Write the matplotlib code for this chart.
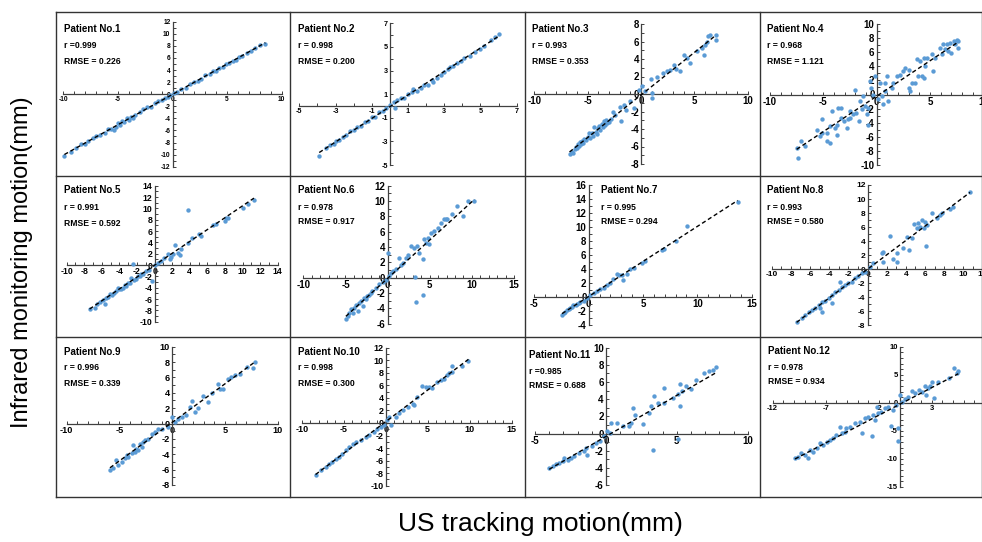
import numpy as np
import matplotlib.pyplot as plt
from matplotlib.lines import Line2D
from matplotlib.ticker import MultipleLocator

plt.rcParams['font.family'] = ['Liberation Sans', 'DejaVu Sans']
plt.rcParams['axes.unicode_minus'] = False

W, H = 982, 542

# (US tracking, infrared monitoring) pairs
patient1 = [(-9.9, -10.2), (-9.3, -9.5), (-8.8, -8.9), (-8.4, -8.3), (-8.0, -8.2), (-7.7, -7.8), (-7.3, -7.2),
            (-7.0, -6.9), (-6.6, -6.8), (-6.2, -6.4), (-5.9, -5.8), (-5.6, -5.7), (-5.4, -5.9), (-5.2, -5.5),
            (-5.0, -4.8), (-4.8, -5.1), (-4.6, -4.4), (-4.4, -4.6), (-4.2, -4.0), (-4.0, -4.3), (-3.8, -3.7),
            (-3.6, -3.9), (-3.4, -3.5), (-3.0, -2.9), (-2.7, -2.5), (-2.3, -2.2), (-2.0, -2.1), (-1.6, -1.5),
            (-1.3, -1.1), (-1.0, -1.0), (-0.7, -0.6), (-0.4, -0.5), (-0.2, -0.1), (0.1, 0.2), (0.4, 0.3),
            (0.8, 0.9), (1.2, 1.1), (1.6, 1.7), (2.0, 2.1), (2.3, 2.2), (2.6, 2.5), (3.0, 3.1), (3.4, 3.3),
            (3.7, 3.8), (4.0, 3.9), (4.3, 4.4), (4.6, 4.5), (4.9, 5.0), (5.2, 5.1), (5.5, 5.5), (5.8, 5.6),
            (6.1, 6.2), (6.4, 6.3), (6.8, 6.9), (7.2, 7.1), (7.6, 7.6), (8.0, 8.1), (8.5, 8.3)]
patient2 = [(-3.9, -4.2), (-3.5, -3.6), (-3.3, -3.3), (-3.1, -3.2), (-3.0, -3.0), (-2.8, -2.9), (-2.6, -2.6),
            (-2.4, -2.5), (-2.2, -2.1), (-2.0, -2.0), (-1.8, -1.8), (-1.6, -1.7), (-1.4, -1.4), (-1.2, -1.3),
            (-1.0, -0.9), (-0.8, -0.9), (-0.6, -0.5), (-0.4, -0.4), (-0.2, -0.2), (0.0, 0.1), (0.2, 0.3),
            (0.3, -0.2), (0.4, 0.5), (0.6, 0.7), (0.8, 0.7), (1.0, 1.0), (1.2, 1.2), (1.3, 1.4), (1.5, 1.3),
            (1.7, 1.5), (1.9, 1.8), (2.1, 1.8), (2.3, 2.2), (2.4, 2.0), (2.6, 2.4), (2.8, 2.6), (3.0, 2.9),
            (3.2, 3.1), (3.3, 3.3), (3.5, 3.4), (3.7, 3.6), (3.9, 3.8), (4.1, 4.1), (4.4, 4.2), (4.7, 4.6),
            (5.0, 4.8), (5.2, 5.1), (5.6, 5.6), (5.8, 5.8), (6.0, 6.1)]
patient3 = [(-6.7, -6.9), (-6.5, -6.6), (-6.4, -6.7), (-6.2, -6.3), (-6.1, -6.1), (-6.0, -6.2), (-5.9, -5.7),
            (-5.8, -5.9), (-5.7, -5.5), (-5.6, -5.7), (-5.5, -5.4), (-5.4, -5.6), (-5.3, -5.1), (-5.2, -5.3),
            (-5.0, -4.9), (-4.9, -4.5), (-4.8, -5.0), (-4.6, -4.4), (-4.5, -4.8), (-4.4, -3.8), (-4.2, -4.3),
            (-4.1, -4.6), (-4.0, -3.9), (-3.9, -3.6), (-3.8, -4.1), (-3.7, -3.4), (-3.6, -3.8), (-3.5, -3.1),
            (-3.4, -3.5), (-3.3, -3.0), (-3.2, -3.3), (-3.0, -3.2), (-2.8, -2.9), (-2.6, -2.0), (-2.4, -2.4),
            (-2.0, -1.5), (-1.9, -3.1), (-1.6, -1.2), (-1.4, -1.8), (-1.0, -0.8), (-0.7, -1.6), (-0.2, 0.5),
            (0.1, 0.9), (0.4, 0.4), (0.9, 1.7), (1.0, 0.1), (1.0, -0.5), (1.5, 2.0), (2.1, 2.4), (2.4, 2.6),
            (2.75, 2.8), (3.1, 3.35), (3.3, 2.9), (3.7, 2.6), (4.0, 4.5), (4.3, 4.1), (4.6, 3.5), (5.25, 4.9),
            (5.7, 5.3), (5.9, 4.5), (6.0, 5.6), (6.2, 5.9), (6.3, 6.6), (6.5, 6.8), (7.0, 6.8), (7.0, 6.2)]
patient4 = [(-7.5, -7.6), (-7.35, -9.0), (-7.1, -6.6), (-6.7, -7.3), (-5.6, -5.0), (-5.3, -5.9), (-5.15, -5.4),
            (-5.1, -3.5), (-4.7, -5.4), (-4.7, -6.6), (-4.4, -6.9), (-4.4, -4.5), (-4.2, -2.4), (-3.9, -4.7),
            (-3.75, -4.3), (-3.75, -5.7), (-3.6, -1.9), (-3.3, -1.9), (-3.3, -3.3), (-3.1, -3.8), (-2.8, -4.7),
            (-2.7, -3.5), (-2.5, -3.3), (-2.5, -2.4), (-2.2, -2.8), (-2.0, 0.7), (-1.9, -2.6), (-1.7, -3.8),
            (-1.6, -0.9), (-1.4, -2.1), (-1.25, -0.2), (-1.1, -1.7), (-0.9, -2.8), (-0.8, -1.9), (-0.8, -4.3),
            (-0.6, 1.9), (-0.5, 0.9), (-0.3, 0.0), (-0.15, 2.6), (0.15, -0.7), (0.3, 1.65), (0.45, -0.2),
            (0.6, -1.4), (0.8, 0.5), (0.8, 1.65), (0.95, 2.6), (1.1, -0.9), (1.4, 0.9), (1.55, 1.65),
            (1.9, 2.6), (2.2, 2.8), (2.5, 3.3), (2.65, 3.8), (3.0, 3.5), (3.0, 0.9), (3.1, 0.5), (3.3, 1.65),
            (3.6, 1.65), (3.75, 5.0), (3.9, 2.6), (4.1, 4.7), (4.2, 2.6), (4.4, 2.4), (4.4, 5.2), (4.5, 4.0),
            (4.7, 5.2), (5.15, 5.7), (5.3, 3.3), (5.5, 5.2), (5.9, 6.6), (6.1, 5.7), (6.25, 7.1), (6.4, 6.4),
            (6.55, 7.1), (6.7, 6.1), (6.9, 7.3), (7.0, 5.9), (7.2, 7.6), (7.3, 7.1), (7.5, 7.8), (7.65, 7.6),
            (7.65, 6.6)]
patient5 = [(-7.4, -7.8), (-6.8, -7.5), (-6.5, -6.9), (-6.25, -6.6), (-5.9, -6.1), (-5.7, -6.9), (-5.5, -5.8),
            (-5.3, -5.6), (-5.1, -5.1), (-4.9, -5.2), (-4.6, -4.9), (-4.4, -4.6), (-4.2, -4.0), (-4.0, -4.3),
            (-3.8, -4.2), (-3.6, -4.0), (-3.4, -3.5), (-3.2, -3.7), (-3.0, -3.2), (-2.8, -3.1), (-2.65, -2.2),
            (-2.5, 0.1), (-2.3, -2.7), (-2.1, -2.5), (-1.9, -2.0), (-1.7, -1.9), (-1.5, -1.5), (-1.3, -1.6),
            (-0.95, -1.05), (-0.6, -0.8), (-0.3, -2.9), (0.0, 0.0), (0.4, 0.4), (0.7, 0.8), (1.1, 1.3),
            (1.5, 1.9), (1.7, 1.0), (1.9, 1.5), (2.1, 1.9), (2.3, 3.5), (2.65, 2.2), (2.85, 1.7), (3.0, 2.8),
            (3.8, 3.9), (3.85, 9.65), (4.2, 4.8), (5.1, 5.4), (5.3, 5.1), (6.6, 7.1), (7.0, 7.2), (7.95, 7.8),
            (8.1, 8.35), (8.3, 8.35), (10.0, 10.1), (10.6, 10.7), (11.3, 11.4)]
patient6 = [(-4.95, -5.35), (-4.75, -5.0), (-4.55, -4.55), (-4.35, -4.1), (-4.15, -4.55), (-3.95, -3.9),
            (-3.75, -3.5), (-3.55, -4.35), (-3.35, -3.25), (-3.15, -3.05), (-2.95, -3.7), (-2.75, -2.6),
            (-2.55, -2.8), (-2.4, -2.4), (-2.2, -2.2), (-2.0, -1.95), (-1.8, -1.75), (-1.4, -1.3), (-1.0, -0.85),
            (-0.6, -0.55), (-0.2, -0.3), (0.1, 3.2), (0.2, 0.2), (0.4, 0.65), (0.6, 0.85), (1.0, 1.1),
            (1.4, 2.6), (1.6, 1.6), (1.8, 1.9), (2.2, 2.6), (2.4, 2.9), (2.75, 4.1), (3.15, 3.9), (3.3, 0.15),
            (3.35, -3.2), (3.55, 4.1), (3.75, 3.25), (4.15, -2.2), (4.25, 2.4), (4.35, 5.0), (4.55, 4.55),
            (4.75, 5.2), (4.95, 4.35), (5.15, 5.85), (5.55, 6.1), (5.95, 6.5), (6.3, 7.2), (6.7, 7.6),
            (6.9, 7.7), (7.1, 7.7), (7.7, 8.25), (8.2, 9.4), (9.0, 8.1), (9.5, 10.0), (10.3, 10.0)]
patient7 = [(-2.45, -2.5), (-2.3, -2.25), (-2.15, -2.15), (-2.0, -1.9), (-1.85, -1.65), (-1.7, -1.5),
            (-1.55, -1.45), (-1.4, -1.2), (-1.2, -1.1), (-1.05, -0.95), (-0.9, -0.8), (-0.75, -0.7),
            (-0.45, -0.5), (-0.15, -0.15), (0.15, 0.25), (0.45, 0.6), (0.75, 0.85), (1.05, 1.1), (1.4, 1.3),
            (1.7, 1.65), (2.0, 2.05), (2.25, 2.6), (2.6, 3.35), (2.75, 3.1), (3.05, 3.1), (3.2, 2.5),
            (3.55, 3.35), (3.85, 3.95), (4.15, 4.15), (4.9, 4.9), (5.2, 5.1), (6.75, 6.65), (6.9, 6.8),
            (8.0, 7.95), (9.05, 10.1), (13.7, 13.6)]
patient8 = [(-7.4, -7.5), (-6.85, -7.05), (-6.5, -6.6), (-6.15, -6.2), (-5.8, -5.85), (-5.45, -5.6),
            (-5.1, -5.15), (-4.95, -5.5), (-4.75, -4.75), (-4.75, -6.1), (-4.4, -4.55), (-4.05, -4.2),
            (-3.7, -4.9), (-3.7, -3.7), (-3.4, -3.25), (-3.0, -3.0), (-2.85, -1.9), (-2.7, -2.5), (-2.35, -2.3),
            (-2.0, -2.05), (-1.65, -1.8), (-1.3, -1.35), (-0.95, -1.0), (-0.6, -0.6), (-0.25, -0.4), (0.3, 0.35),
            (0.6, 0.8), (1.5, 2.25), (1.65, 2.4), (1.65, 1.05), (2.35, 4.7), (2.7, 1.45), (3.05, 0.95),
            (3.05, 2.25), (3.7, 3.05), (4.1, 4.55), (4.3, 2.75), (4.6, 4.4), (4.8, 6.4), (5.15, 5.8), (5.3, 6.5),
            (5.5, 6.05), (5.65, 7.0), (5.85, 5.8), (6.0, 6.75), (6.1, 3.35), (6.2, 6.3), (6.7, 8.05),
            (7.25, 7.25), (7.6, 7.7), (7.75, 7.95), (8.6, 8.5), (8.9, 8.9), (10.7, 11.05)]
patient9 = [(-5.9, -6.1), (-5.6, -5.85), (-5.3, -4.8), (-5.1, -5.4), (-4.8, -5.0), (-4.5, -4.55), (-4.3, -4.1),
            (-4.2, -4.35), (-3.85, -3.9), (-3.7, -2.8), (-3.55, -3.65), (-3.4, -3.25), (-3.2, -3.45),
            (-3.05, -2.6), (-2.9, -3.05), (-2.75, -2.4), (-2.6, -2.15), (-2.3, -1.95), (-1.95, -1.3),
            (-1.65, -1.1), (-1.35, -0.65), (-1.0, -0.65), (-0.4, -0.45), (-0.05, 0.85), (0.25, 0.2), (0.55, 0.55),
            (0.9, 0.85), (1.35, 1.15), (1.7, 2.15), (1.9, 2.9), (2.15, 1.45), (2.45, 2.05), (2.95, 3.6),
            (3.4, 2.8), (3.75, 4.0), (4.35, 5.1), (4.5, 4.55), (4.85, 4.55), (5.3, 5.75), (5.6, 6.0),
            (5.95, 6.3), (6.4, 6.5), (7.05, 7.4), (7.7, 7.25), (7.85, 7.95)]
patient10 = [(-8.35, -8.25), (-7.75, -7.55), (-7.15, -7.0), (-6.75, -6.5), (-6.35, -6.2), (-5.95, -5.8),
             (-5.55, -5.45), (-5.15, -4.9), (-4.75, -4.35), (-4.35, -3.85), (-3.95, -3.3), (-3.55, -3.05),
             (-2.95, -2.75), (-2.4, -2.25), (-2.0, -1.95), (-1.4, -1.45), (-1.0, -1.0), (-0.6, -0.65),
             (-0.2, -0.35), (0.2, 0.45), (0.4, 0.95), (0.6, -0.35), (1.2, 0.95), (1.6, 1.65), (2.0, 2.0),
             (2.6, 2.55), (3.2, 3.1), (3.35, 2.8), (3.75, 4.15), (4.3, 5.85), (4.75, 5.75), (5.15, 5.75),
             (5.55, 5.5), (6.15, 6.55), (6.55, 6.8), (6.95, 7.05), (7.35, 7.7), (7.55, 8.0), (7.85, 9.05),
             (7.95, 8.1), (9.05, 9.05), (9.85, 9.85)]
patient11 = [(-4.0, -4.0), (-3.75, -3.8), (-3.5, -3.6), (-3.3, -3.4), (-3.05, -3.25), (-2.95, -2.85),
             (-2.7, -3.05), (-2.45, -2.85), (-2.25, -2.65), (-1.9, -2.25), (-1.55, -2.05), (-1.4, -1.65),
             (-1.3, -2.45), (-0.95, -1.5), (-0.7, -1.1), (-0.45, -0.9), (-0.1, -0.3), (0.05, 0.25), (0.3, 0.1),
             (0.35, 1.25), (0.8, 1.25), (1.2, 0.85), (1.65, 0.9), (1.75, 1.25), (1.9, 3.0), (2.05, 2.2),
             (2.6, 1.15), (3.05, 2.4), (3.2, 3.2), (3.3, -1.95), (3.4, 4.35), (3.65, 3.6), (4.1, 5.35),
             (4.1, 3.6), (4.7, 4.15), (5.05, 4.55), (5.05, -0.6), (5.2, 5.75), (5.2, 3.2), (5.4, 4.95),
             (5.65, 5.55), (6.0, 5.15), (6.35, 6.25), (6.95, 7.1), (7.3, 7.3), (7.55, 7.45), (7.75, 7.8)]
patient12 = [(-9.9, -9.95), (-9.6, -9.65), (-9.3, -9.05), (-9.0, -9.35), (-8.7, -9.95), (-8.5, -8.45),
             (-8.2, -8.75), (-7.85, -8.15), (-7.55, -7.25), (-7.25, -7.55), (-6.9, -6.95), (-6.6, -6.65),
             (-6.3, -6.35), (-6.0, -5.75), (-5.65, -4.3), (-5.5, -5.45), (-5.2, -5.2), (-5.05, -4.6),
             (-4.7, -4.3), (-4.25, -3.7), (-3.8, -3.4), (-3.6, -5.45), (-3.3, -2.8), (-3.0, -2.5),
             (-2.65, -5.95), (-2.5, -2.2), (-2.35, -3.1), (-2.2, -0.85), (-2.05, -1.9), (-1.75, -1.6),
             (-1.4, -1.0), (-1.1, -0.7), (-0.85, -4.15), (-0.65, -1.3), (-0.4, -0.4), (-0.2, -4.6),
             (-0.15, -6.8), (0.0, 1.35), (0.15, 0.2), (0.45, 0.75), (0.8, 1.05), (1.1, 2.15), (1.4, 1.65),
             (1.75, 2.25), (2.05, 1.95), (2.35, 3.0), (2.5, 1.35), (2.65, 2.55), (2.85, 3.0), (3.0, 3.75),
             (3.25, 0.9), (3.6, 3.75), (4.6, 4.35), (5.05, 6.15), (5.35, 5.25), (5.5, 5.7)]

patients = [patient1, patient2, patient3, patient4, patient5, patient6,
            patient7, patient8, patient9, patient10, patient11, patient12]
r_labels = ['r =0.999', 'r = 0.998', 'r = 0.993', 'r = 0.968', 'r = 0.991', 'r = 0.978',
            'r = 0.995', 'r = 0.993', 'r = 0.996', 'r = 0.998', 'r =0.985', 'r = 0.978']
rmse_labels = ['RMSE = 0.226', 'RMSE = 0.200', 'RMSE = 0.353', 'RMSE = 1.121', 'RMSE = 0.592', 'RMSE = 0.917',
               'RMSE = 0.294', 'RMSE = 0.580', 'RMSE = 0.339', 'RMSE = 0.300', 'RMSE = 0.688', 'RMSE = 0.934']
x_limits = [(-10, 10), (-5, 7), (-10, 10), (-10, 10), (-10, 14), (-10, 15),
            (-5, 15), (-10, 12), (-10, 10), (-10, 15), (-5, 10), (-12, 8)]
y_limits = [(-12, 12), (-5, 7), (-8, 8), (-10, 10), (-10, 14), (-6, 12),
            (-4, 16), (-8, 12), (-8, 10), (-10, 12), (-6, 10), (-15, 10)]
x_steps = [5, 2, 5, 5, 2, 5, 5, 2, 5, 5, 5, 5]
y_steps = [2, 2, 2, 2, 2, 2, 2, 2, 2, 2, 2, 5]

# plot area of each panel in pixels: left, right, top, bottom
boxes = [(63.3, 281.7, 21.7, 166.7), (299.3, 516.7, 23.3, 165), (534.3, 747.7, 24, 164), (770, 983.4, 24, 165),
         (66.7, 277.7, 185.7, 321.7), (303.3, 514, 185.7, 323.7), (534.3, 751.7, 185, 325), (771.7, 982.5, 185, 325),
         (66.7, 277.7, 346.7, 485), (301.7, 511.7, 347.7, 485.7), (535, 747.7, 347.7, 485), (772.7, 984.8, 346.7, 486.7)]
# text anchor: left x, title y, r y, rmse y
notes = [(64, 29, 45, 61), (298, 29, 45, 61), (532, 29, 45, 61), (767, 29, 45, 61),
         (64, 190, 207, 223), (298, 190, 207, 222), (601, 190, 207, 222), (767, 190, 207, 222),
         (64, 352, 368, 384), (298, 352, 368, 384), (529, 355, 371, 386), (768, 351, 367, 382)]
tick_sizes = [4.8, 5.2, 7, 7, 6.3, 7, 7, 6, 6.6, 6.5, 7, 5.5]

blue = '#5B9BD5'
axis_col = '#404040'

fig = plt.figure(figsize=(W / 100, H / 100), dpi=100)


def px(x, y):
    return x / W, 1 - y / H


for i, pts in enumerate(patients):
    xs = np.array([p[0] for p in pts])
    ys = np.array([p[1] for p in pts])
    l, r, t, b = boxes[i]
    ax = fig.add_axes([l / W, 1 - b / H, (r - l) / W, (b - t) / H])
    ax.set_facecolor('none')
    ax.set_xlim(*x_limits[i])
    ax.set_ylim(*y_limits[i])
    ax.scatter(xs, ys, s=10, color=blue, linewidths=0, zorder=3, clip_on=False)
    k, c = np.polyfit(xs, ys, 1)
    xx = np.array([xs.min(), xs.max()])
    ax.plot(xx, k * xx + c, color='black', lw=1.0, ls=(0, (3, 2)), zorder=4)

    for side in ['top', 'right']:
        ax.spines[side].set_visible(False)
    for side in ['left', 'bottom']:
        ax.spines[side].set_position(('data', 0))
        ax.spines[side].set_color(axis_col)
        ax.spines[side].set_linewidth(0.9)
    x0, x1 = x_limits[i]
    y0, y1 = y_limits[i]
    xt = np.arange(x0, x1 + 0.1, x_steps[i])
    # the picture is cropped on the right: drop labels that fall fully outside it
    xt_px = l + (xt - x0) / (x1 - x0) * (r - l)
    ax.set_xticks(xt[xt_px < W + 2])
    ax.set_yticks(np.arange(y0, y1 + 0.1, y_steps[i]))
    ax.xaxis.set_minor_locator(MultipleLocator(1))
    ax.yaxis.set_minor_locator(MultipleLocator(1))
    ax.tick_params(which='both', direction='in', length=2.5, width=0.7, color=axis_col,
                   labelsize=tick_sizes[i], pad=1.5, labelcolor='black')
    for lbl in ax.get_xticklabels() + ax.get_yticklabels():
        lbl.set_fontweight('bold')

    tx, ty1, ty2, ty3 = notes[i]
    fig.text(*px(tx, ty1), f'Patient No.{i + 1}', fontsize=7, fontweight='bold', va='center', ha='left')
    fig.text(*px(tx, ty2), r_labels[i], fontsize=6.2, fontweight='bold', va='center', ha='left')
    fig.text(*px(tx, ty3), rmse_labels[i], fontsize=6.2, fontweight='bold', va='center', ha='left')

# panel grid lines
grid_col = '#333333'
for x in [56, 290, 525, 760, 981.5]:
    fig.add_artist(Line2D([x / W, x / W], [1 - 12 / H, 1 - 497 / H], color=grid_col, lw=1))
for y in [12, 176, 337, 497]:
    fig.add_artist(Line2D([56 / W, 981.5 / W], [1 - y / H, 1 - y / H], color=grid_col, lw=1))

fig.text(*px(22, 262), 'Infrared monitoring motion(mm)', rotation=90, fontsize=17, ha='center', va='center')
fig.text(*px(540, 524), 'US tracking motion(mm)', fontsize=19, ha='center', va='center')

fig.savefig('out.png', dpi=100)
